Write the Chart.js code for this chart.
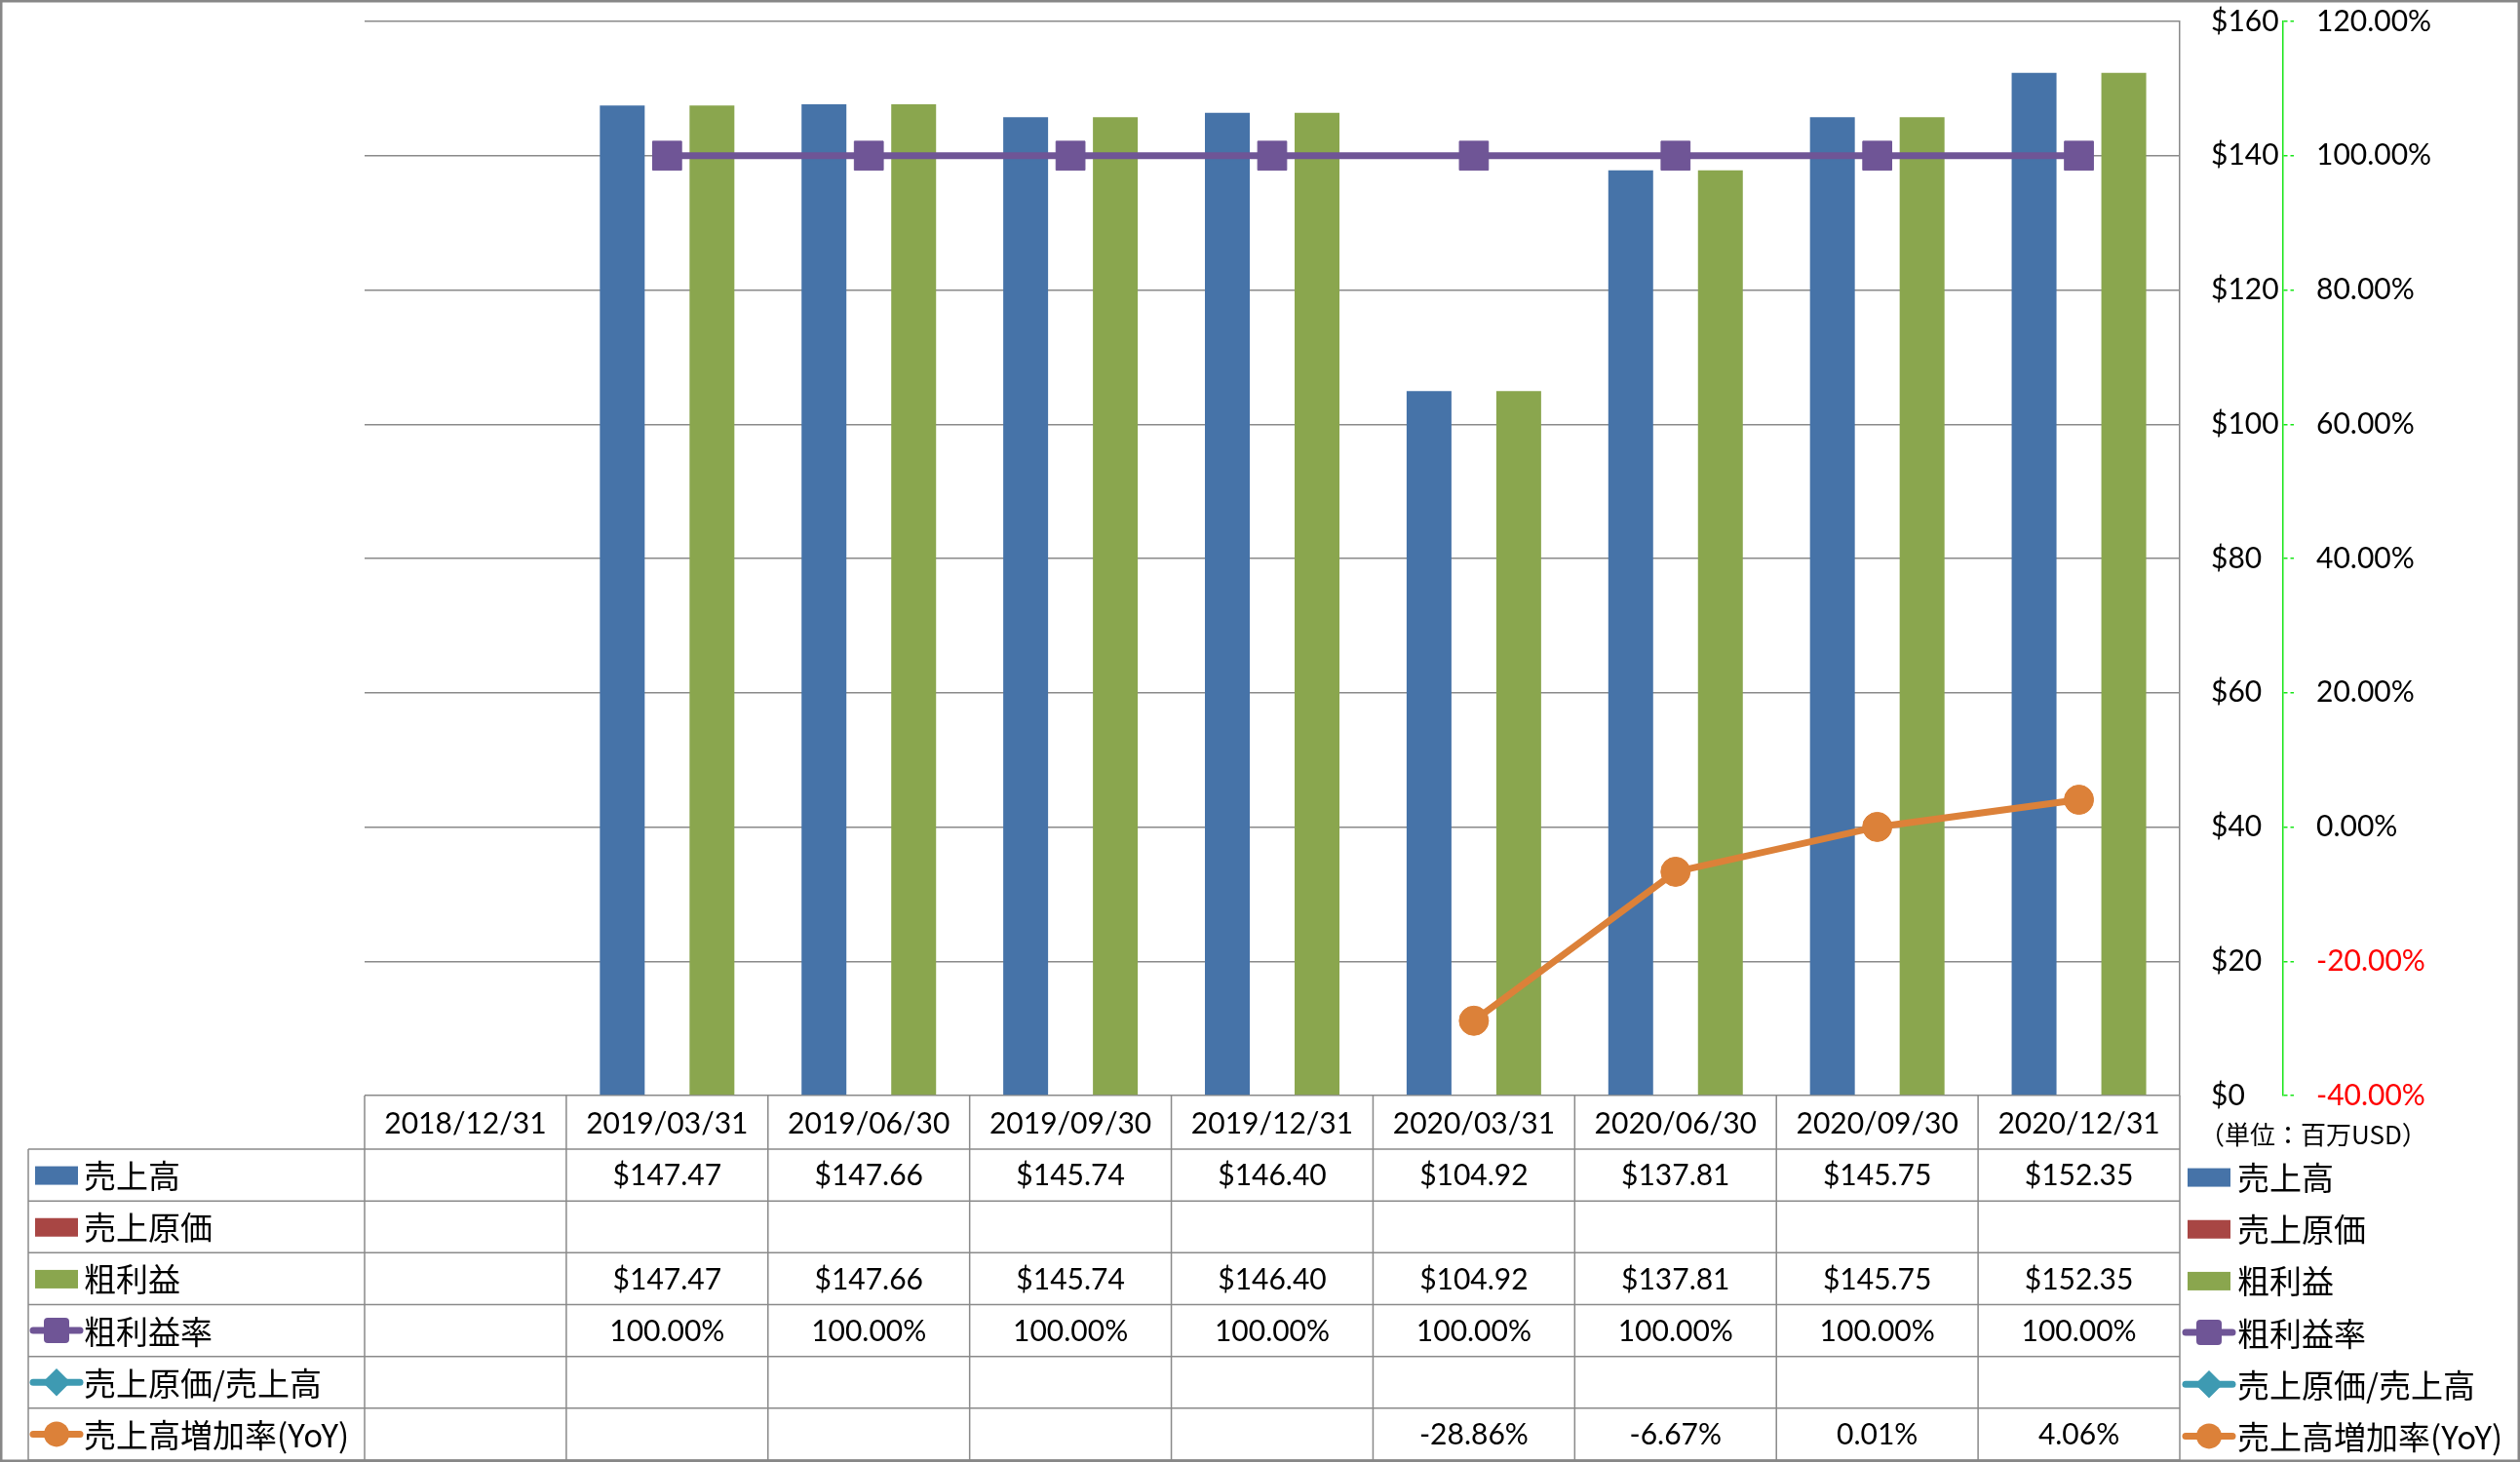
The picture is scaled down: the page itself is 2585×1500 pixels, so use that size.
<!DOCTYPE html>
<html lang="ja">
<head>
<meta charset="utf-8">
<title>売上高・粗利益</title>
<script src="https://cdn.jsdelivr.net/npm/chart.js@4.4.1/dist/chart.umd.min.js"></script>
<style>
  html, body { margin: 0; padding: 0; background: #fff; }
  canvas { display: block; }
</style>
</head>
<body>
<canvas id="chart" width="2585" height="1500"></canvas>
<script>
const categories = [
  '2018/12/31', '2019/03/31', '2019/06/30', '2019/09/30', '2019/12/31',
  '2020/03/31', '2020/06/30', '2020/09/30', '2020/12/31',
];

// 売上高（百万USD）
const sales = [null, 147.47, 147.66, 145.74, 146.40, 104.92, 137.81, 145.75, 152.35];
// 売上原価（データなし）
const costOfSales = [null, null, null, null, null, null, null, null, null];
// 粗利益
const grossProfit = [null, 147.47, 147.66, 145.74, 146.40, 104.92, 137.81, 145.75, 152.35];
// 粗利益率（%）
const grossMargin = [null, 100, 100, 100, 100, 100, 100, 100, 100];
// 売上原価/売上高（データなし）
const costRatio = [null, null, null, null, null, null, null, null, null];
// 売上高増加率 YoY（%）
const salesGrowth = [null, null, null, null, null, -28.86, -6.67, 0.01, 4.06];

// 軸の目盛
const usdTicks = [0, 20, 40, 60, 80, 100, 120, 140, 160];
const pctTicks = [-40, -20, 0, 20, 40, 60, 80, 100, 120];

const NUM_FONT = "Lato, 'Noto Sans CJK JP', sans-serif";
const JP_FONT = "'Noto Sans CJK JP', sans-serif";
const GRID = '#8a8a8a';
const AXIS_GREEN = '#19e619';

const BLUE = '#4673a8';
const RED = '#a84644';
const GREEN = '#8aa64e';
const PURPLE = '#6f5596';
const TEAL = '#3e9ab2';
const ORANGE = '#dc8139';

function drawMarker(ctx, style, cx, cy, r, color) {
  ctx.fillStyle = color;
  ctx.beginPath();
  if (style === 'rect') {
    ctx.roundRect(cx - r, cy - r, r * 2, r * 2, 4);
  } else if (style === 'rectRot') {
    ctx.moveTo(cx, cy - r * 1.1);
    ctx.lineTo(cx + r * 1.1, cy);
    ctx.lineTo(cx, cy + r * 1.1);
    ctx.lineTo(cx - r * 1.1, cy);
    ctx.closePath();
  } else {
    ctx.arc(cx, cy, r, 0, Math.PI * 2);
  }
  ctx.fill();
}

function drawKey(ctx, ds, cx, cy) {
  if (ds.type === 'bar') {
    ctx.fillStyle = ds.backgroundColor;
    ctx.fillRect(cx - 22, cy - 9, 44, 19);
    return;
  }
  ctx.strokeStyle = ds.borderColor;
  ctx.lineWidth = 7;
  ctx.lineCap = 'round';
  ctx.beginPath();
  ctx.moveTo(cx - 24, cy);
  ctx.lineTo(cx + 24, cy);
  ctx.stroke();
  drawMarker(ctx, ds.pointStyle, cx, cy, 13, ds.borderColor);
}

function formatValue(ds, v) {
  if (v === null || v === undefined) return '';
  return ds.fmt === 'usd' ? '$' + v.toFixed(2) : v.toFixed(2) + '%';
}

// 縦軸のラベル分の余白を消す
function noVerticalPadding(scale) {
  scale.paddingTop = 0;
  scale.paddingBottom = 0;
}

// データテーブルと凡例
const tablePlugin = {
  id: 'dataTable',
  afterDraw(chart) {
    const { ctx, chartArea: area } = chart;
    const xs = chart.scales.x;
    const datasets = chart.data.datasets;
    const colW = (area.right - area.left) / categories.length;
    const tableLeft = 29;
    const headBottom = area.bottom + 55;
    const tableBottom = 1498;
    const rowH = (tableBottom - headBottom) / datasets.length;

    ctx.save();
    ctx.strokeStyle = GRID;
    ctx.lineWidth = 1.5;
    ctx.beginPath();
    for (let i = 0; i <= datasets.length; i++) {
      const y = headBottom + i * rowH;
      ctx.moveTo(tableLeft, y);
      ctx.lineTo(area.right, y);
    }
    ctx.moveTo(tableLeft, headBottom);
    ctx.lineTo(tableLeft, tableBottom);
    for (let i = 0; i <= categories.length; i++) {
      const x = area.left + i * colW;
      ctx.moveTo(x, area.bottom);
      ctx.lineTo(x, tableBottom);
    }
    ctx.stroke();

    ctx.textBaseline = 'middle';
    datasets.forEach((ds, r) => {
      const cy = headBottom + (r + 0.5) * rowH;
      // 左の系列名
      drawKey(ctx, ds, 58, cy);
      ctx.fillStyle = '#000';
      ctx.textAlign = 'left';
      ctx.font = '33px ' + JP_FONT;
      ctx.fillText(ds.label, 86, cy + 1);
      // 値
      ctx.textAlign = 'center';
      ctx.font = '30px ' + NUM_FONT;
      ds.data.forEach((v, i) => {
        const txt = formatValue(ds, v);
        if (txt) ctx.fillText(txt, xs.getPixelForValue(i), cy + 1);
      });
      // 右の凡例
      drawKey(ctx, ds, 2266, cy + 2);
      ctx.fillStyle = '#000';
      ctx.textAlign = 'left';
      ctx.font = '33px ' + JP_FONT;
      ctx.fillText(ds.label, 2295, cy + 3);
    });

    ctx.font = '26px ' + JP_FONT;
    ctx.textAlign = 'left';
    ctx.fillStyle = '#000';
    ctx.fillText('（単位：百万USD）', 2256, area.bottom + 40);

    // 外枠
    ctx.strokeStyle = '#878787';
    ctx.lineWidth = 2.5;
    ctx.strokeRect(1.25, 1.25, chart.width - 2.5, chart.height - 2.5);
    ctx.restore();
  },
};

new Chart(document.getElementById('chart'), {
  type: 'bar',
  data: {
    labels: categories,
    datasets: [
      {
        type: 'bar', label: '売上高', data: sales, fmt: 'usd',
        backgroundColor: BLUE, yAxisID: 'y', order: 2,
        categoryPercentage: 0.667, barPercentage: 1,
      },
      {
        type: 'bar', label: '売上原価', data: costOfSales, fmt: 'usd',
        backgroundColor: RED, yAxisID: 'y', order: 2,
        categoryPercentage: 0.667, barPercentage: 1,
      },
      {
        type: 'bar', label: '粗利益', data: grossProfit, fmt: 'usd',
        backgroundColor: GREEN, yAxisID: 'y', order: 2,
        categoryPercentage: 0.667, barPercentage: 1,
      },
      {
        type: 'line', label: '粗利益率', data: grossMargin, fmt: 'pct',
        borderColor: PURPLE, backgroundColor: PURPLE, yAxisID: 'y2', order: 0,
        borderWidth: 7, pointStyle: 'rect', pointRadius: 21,
        pointBackgroundColor: PURPLE, pointBorderColor: PURPLE, pointBorderWidth: 1,
      },
      {
        type: 'line', label: '売上原価/売上高', data: costRatio, fmt: 'pct',
        borderColor: TEAL, backgroundColor: TEAL, yAxisID: 'y2', order: 0,
        borderWidth: 7, pointStyle: 'rectRot', pointRadius: 15,
      },
      {
        type: 'line', label: '売上高増加率(YoY)', data: salesGrowth, fmt: 'pct',
        borderColor: ORANGE, backgroundColor: ORANGE, yAxisID: 'y2', order: 0,
        borderWidth: 7, pointStyle: 'circle', pointRadius: 15,
        pointBackgroundColor: ORANGE, pointBorderColor: ORANGE, pointBorderWidth: 1,
      },
    ],
  },
  options: {
    responsive: false,
    animation: false,
    devicePixelRatio: 1,
    layout: { padding: { left: 374, top: 22, right: 0, bottom: 0 } },
    plugins: {
      legend: { display: false },
      tooltip: { enabled: false },
    },
    scales: {
      x: {
        grid: { display: false },
        border: { display: false },
        ticks: {
          font: { family: NUM_FONT, size: 30 },
          color: '#000',
          padding: 3,
          maxRotation: 0,
          autoSkip: false,
        },
        afterFit(scale) { scale.height = 376; },
      },
      y: {
        position: 'right',
        min: 0,
        max: 160,
        afterBuildTicks(scale) { scale.ticks = usdTicks.map(v => ({ value: v })); },
        grid: { color: GRID, lineWidth: 1.5, drawTicks: false },
        border: { display: true, color: GRID, width: 1.5 },
        ticks: {
          callback: v => '$' + v,
          font: { family: NUM_FONT, size: 30 },
          color: '#000',
          padding: 32,
        },
        afterFit(scale) {
          scale.width = 106;
          noVerticalPadding(scale);
        },
      },
      y2: {
        position: 'right',
        min: -40,
        max: 120,
        afterBuildTicks(scale) { scale.ticks = pctTicks.map(v => ({ value: v })); },
        grid: {
          drawOnChartArea: false,
          drawTicks: true,
          tickLength: 11,
          color: AXIS_GREEN,
          lineWidth: 1.5,
          tickBorderDash: [4, 3],
        },
        border: { display: true, color: AXIS_GREEN, dash: [5, 3], width: 1.5 },
        ticks: {
          callback: v => v.toFixed(2) + '%',
          font: { family: NUM_FONT, size: 30 },
          color: ctx => (ctx.tick.value < 0 ? '#ff0000' : '#000'),
          padding: 23,
        },
        afterFit(scale) {
          scale.width = 243;
          noVerticalPadding(scale);
        },
      },
    },
  },
  plugins: [tablePlugin],
});
</script>
</body>
</html>
